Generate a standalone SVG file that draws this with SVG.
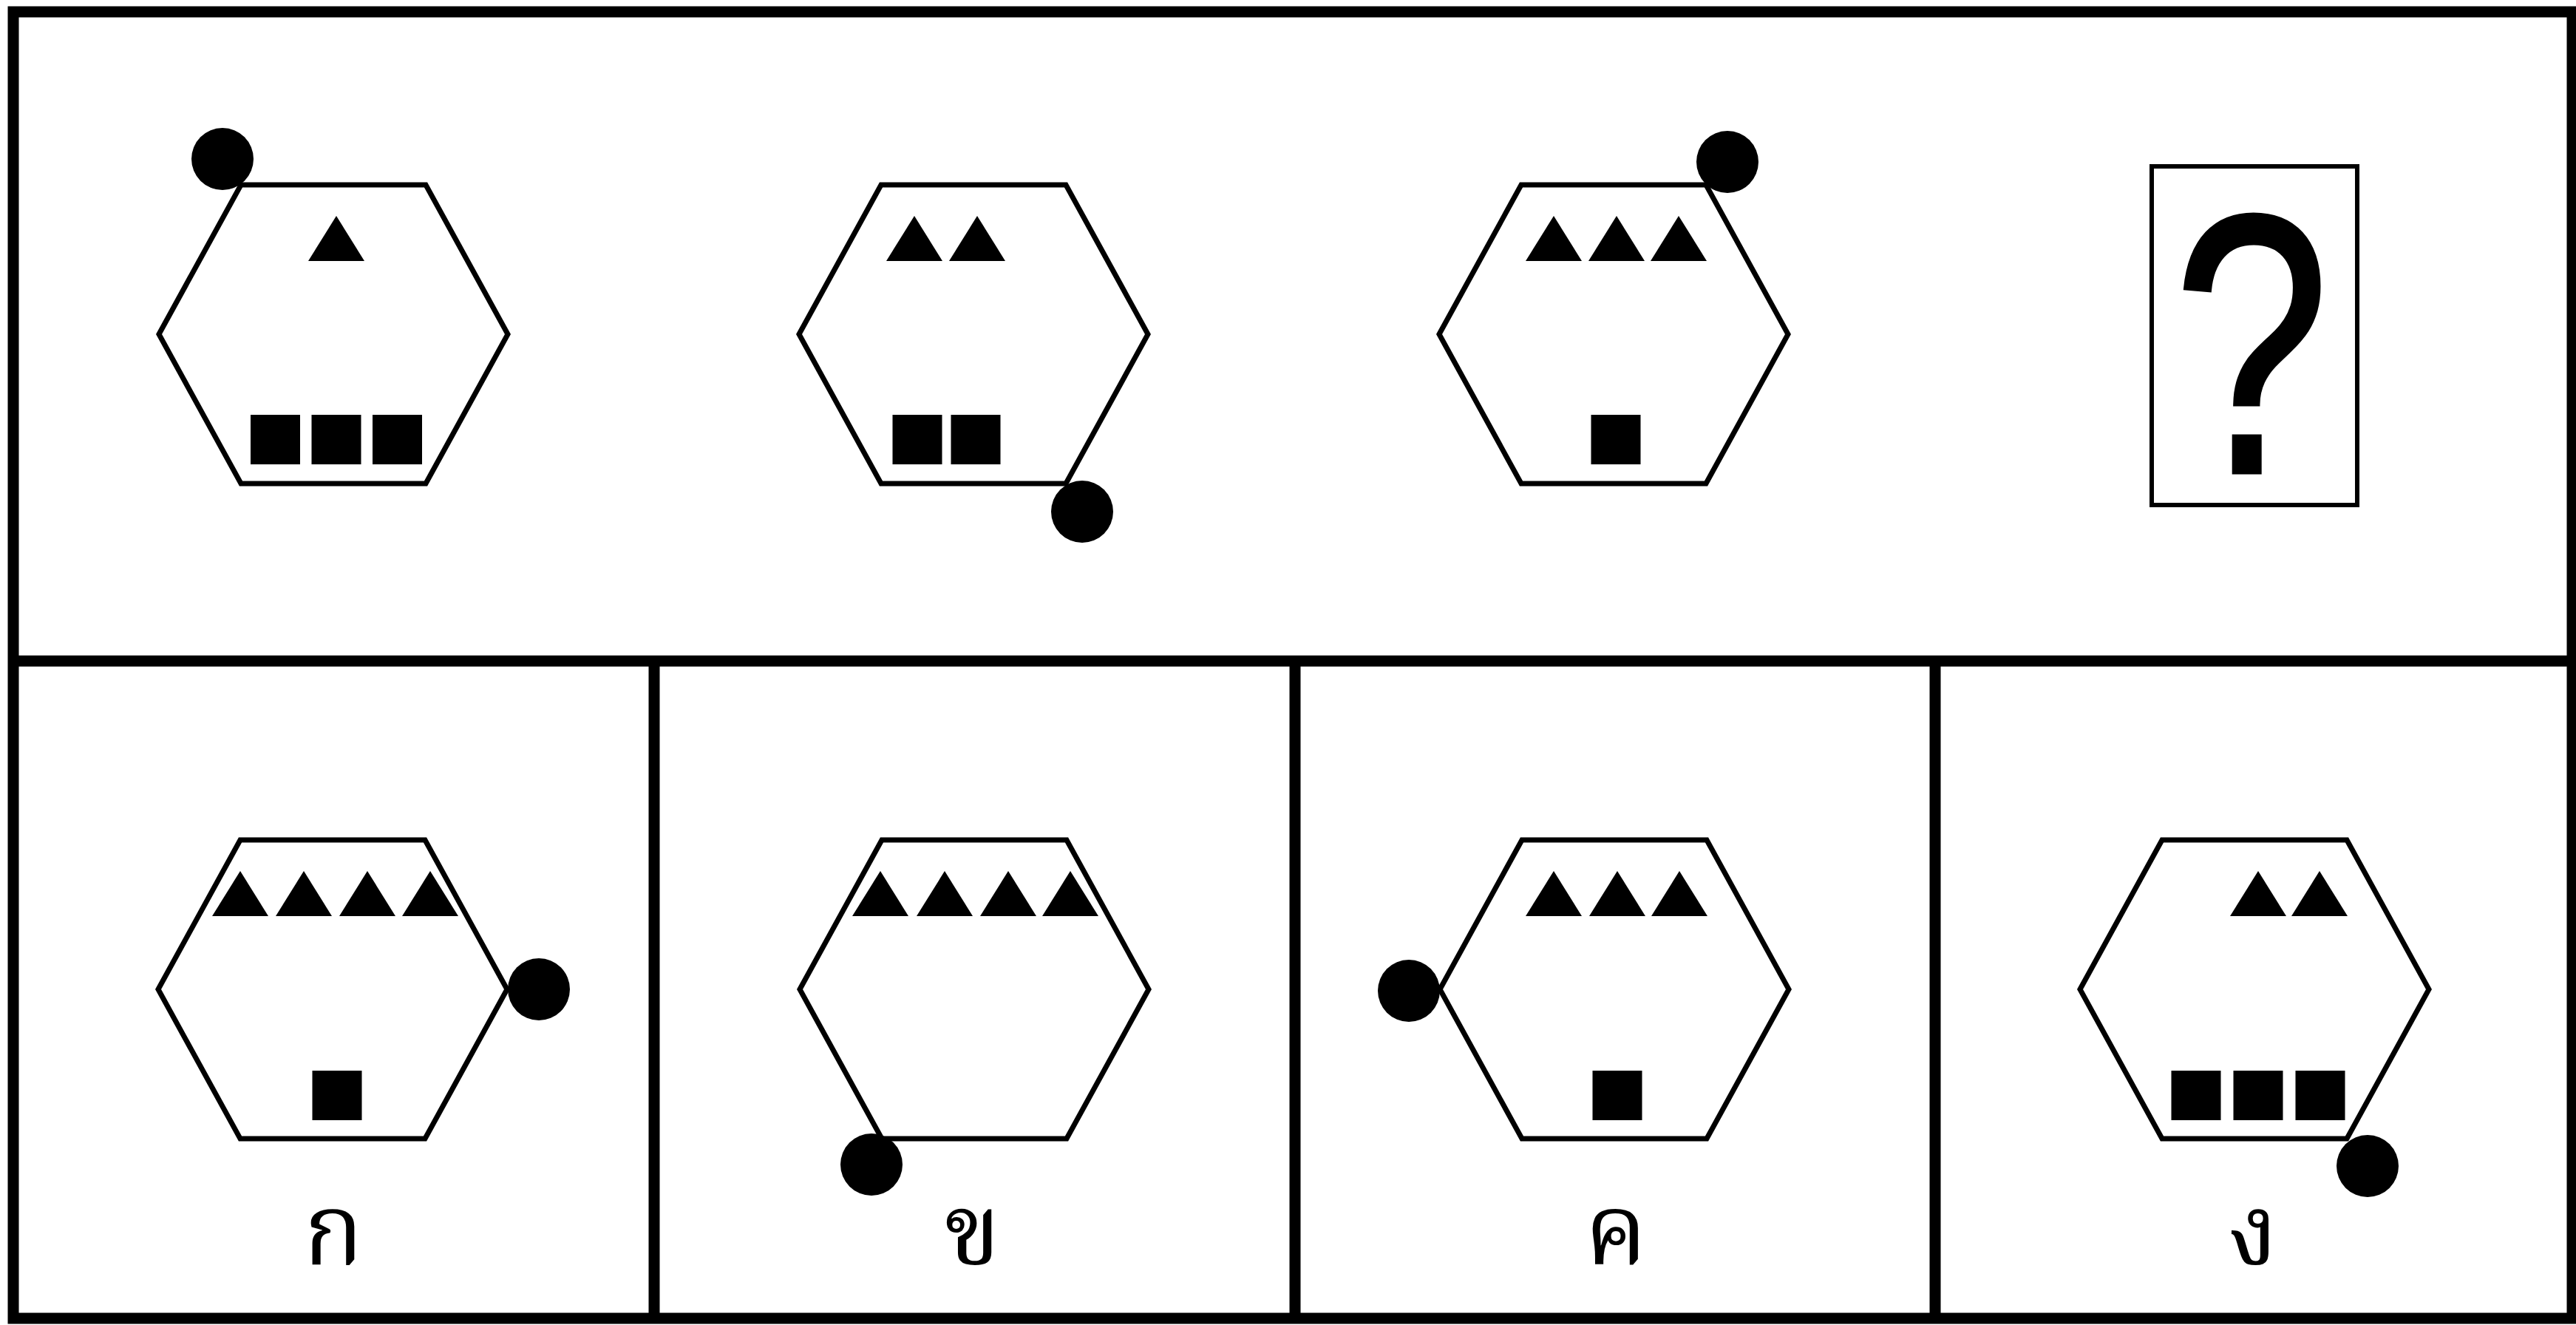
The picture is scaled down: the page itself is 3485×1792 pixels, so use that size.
<svg xmlns="http://www.w3.org/2000/svg" width="3485" height="1792" viewBox="0 0 3485 1792">
<style>
.frame{fill:none;stroke:#000;stroke-width:15}
.hex{fill:none;stroke:#000;stroke-width:7;stroke-linejoin:miter}
.ink{fill:#000}
.qbox{fill:none;stroke:#000;stroke-width:6}
.qmark{font-family:"Liberation Sans",Arial,sans-serif;font-size:500px;fill:#000;stroke:#000;stroke-width:5}
.lbl{font-family:"Noto Serif Thai","Noto Sans Thai",serif;font-weight:400;font-size:135px;fill:#000;text-anchor:middle}
</style>
<defs>
<polygon id="hx" points="-236,0 -125,-202 125,-202 236,0 125,202 -125,202"/>
<polygon id="tri" points="-38,61 0,0 38,61"/>
<rect id="sq" x="-33.5" y="0" width="67" height="67"/>
</defs>
<rect x="0" y="0" width="3485" height="1792" fill="#fff"/>
<g id="frame">
<rect class="frame" x="18" y="16" width="3462" height="1767"/>
<line class="frame" x1="18" y1="894" x2="3480" y2="894"/>
<line class="frame" x1="885" y1="894" x2="885" y2="1783"/>
<line class="frame" x1="1752" y1="894" x2="1752" y2="1783"/>
<line class="frame" x1="2618" y1="894" x2="2618" y2="1783"/>
</g>
<g id="seq1">
<use href="#hx" class="hex" x="451" y="452"/>
<use href="#tri" class="ink" x="455" y="292"/>
<use href="#sq" class="ink" x="372.5" y="561"/>
<use href="#sq" class="ink" x="455" y="561"/>
<use href="#sq" class="ink" x="537.5" y="561"/>
<circle class="ink" cx="301" cy="215" r="42"/>
</g>
<g id="seq2">
<use href="#hx" class="hex" x="1317" y="452"/>
<use href="#tri" class="ink" x="1237" y="292"/>
<use href="#tri" class="ink" x="1322" y="292"/>
<use href="#sq" class="ink" x="1241" y="561"/>
<use href="#sq" class="ink" x="1320" y="561"/>
<circle class="ink" cx="1464" cy="692" r="42"/>
</g>
<g id="seq3">
<use href="#hx" class="hex" x="2183" y="452"/>
<use href="#tri" class="ink" x="2102" y="292"/>
<use href="#tri" class="ink" x="2187" y="292"/>
<use href="#tri" class="ink" x="2271" y="292"/>
<use href="#sq" class="ink" x="2186" y="561"/>
<circle class="ink" cx="2337" cy="219" r="42"/>
</g>
<g id="seq4">
<rect class="qbox" x="2911" y="225" width="278" height="458"/>
<text class="qmark" transform="translate(3046,639) scale(0.76,1)" text-anchor="middle">?</text>
</g>
<g id="choice-ko">
<use href="#hx" class="hex" x="450" y="1338"/>
<use href="#tri" class="ink" x="325" y="1178"/>
<use href="#tri" class="ink" x="411" y="1178"/>
<use href="#tri" class="ink" x="497" y="1178"/>
<use href="#tri" class="ink" x="582" y="1178"/>
<use href="#sq" class="ink" x="456" y="1448"/>
<circle class="ink" cx="729" cy="1338" r="42"/>
<text class="lbl" x="451" y="1710">ก</text>
</g>
<g id="choice-kho">
<use href="#hx" class="hex" x="1318" y="1338"/>
<use href="#tri" class="ink" x="1191" y="1178"/>
<use href="#tri" class="ink" x="1278" y="1178"/>
<use href="#tri" class="ink" x="1364" y="1178"/>
<use href="#tri" class="ink" x="1448" y="1178"/>
<circle class="ink" cx="1179" cy="1575" r="42"/>
<text class="lbl" x="1316" y="1710">ข</text>
</g>
<g id="choice-kho-khwai">
<use href="#hx" class="hex" x="2184" y="1338"/>
<use href="#tri" class="ink" x="2102" y="1178"/>
<use href="#tri" class="ink" x="2188" y="1178"/>
<use href="#tri" class="ink" x="2272" y="1178"/>
<use href="#sq" class="ink" x="2188" y="1448"/>
<circle class="ink" cx="1906" cy="1340" r="42"/>
<text class="lbl" x="2186" y="1710">ค</text>
</g>
<g id="choice-ngo">
<use href="#hx" class="hex" x="3050" y="1338"/>
<use href="#tri" class="ink" x="3055" y="1178"/>
<use href="#tri" class="ink" x="3138" y="1178"/>
<use href="#sq" class="ink" x="2971" y="1448"/>
<use href="#sq" class="ink" x="3055" y="1448"/>
<use href="#sq" class="ink" x="3139" y="1448"/>
<circle class="ink" cx="3203" cy="1577" r="42"/>
<text class="lbl" x="3048" y="1710">ง</text>
</g>
</svg>
